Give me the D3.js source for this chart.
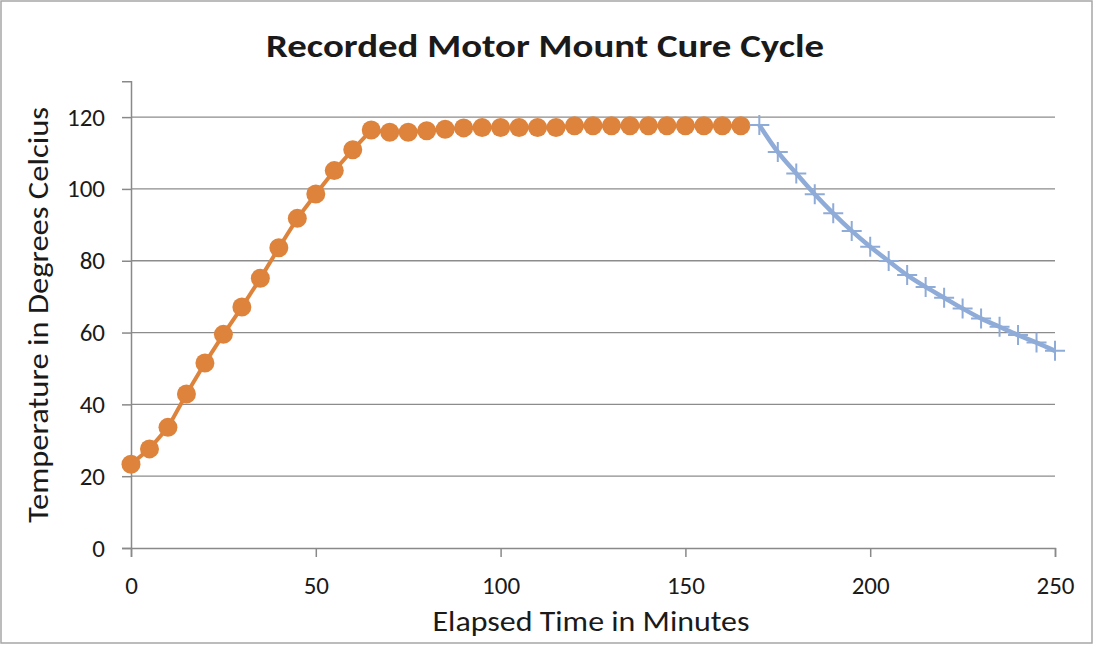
<!DOCTYPE html>
<html>
<head>
<meta charset="utf-8">
<script src="https://cdn.jsdelivr.net/npm/d3@7"></script>
<style>
  body { margin: 0; background: #fff; }
  svg text { font-family: Carlito, Calibri, Lato, "Open Sans", sans-serif; fill: #1a1a1a; }
</style>
</head>
<body>
<div id="chart"></div>
<script>
'use strict';

// heating ramp + hold (recorded every 5 minutes)
var heatTimes = [0, 5, 10, 15, 20, 25, 30, 35, 40, 45, 50, 55, 60, 65, 70, 75, 80, 85,
  90, 95, 100, 105, 110, 115, 120, 125, 130, 135, 140, 145, 150, 155, 160, 165];
var heatTemps = [23.3, 27.6, 33.6, 42.9, 51.5, 59.5, 67.1, 75.1, 83.6, 91.8, 98.6, 105.1,
  110.9, 116.4, 115.8, 115.8, 116.2, 116.6, 117.0, 117.1, 117.1, 117.1, 117.1, 117.1,
  117.6, 117.6, 117.6, 117.6, 117.6, 117.6, 117.6, 117.6, 117.6, 117.6];

// cool down
var coolTimes = [170, 175, 180, 185, 190, 195, 200, 205, 210, 215, 220, 225, 230, 235, 240, 245, 250];
var coolTemps = [117.8, 110.3, 104.3, 98.5, 93.2, 88.3, 83.9, 79.9, 76.0, 72.7, 69.7, 66.7,
  63.9, 61.6, 59.3, 57.2, 54.9];

var xTicks = [0, 50, 100, 150, 200, 250];
var yTicks = [0, 20, 40, 60, 80, 100, 120];

var chartTitle = 'Recorded Motor Mount Cure Cycle';
var xTitle = 'Elapsed Time in Minutes';
var yTitle = 'Temperature in Degrees Celcius';

var W = 1094, H = 645;
var plot = {left: 131, right: 1055, top: 82, bottom: 548};

var svg = d3.select('#chart').append('svg')
  .attr('width', W)
  .attr('height', H);

svg.append('rect')
  .attr('x', 1).attr('y', 1)
  .attr('width', W - 3).attr('height', H - 3)
  .attr('fill', '#fff')
  .attr('stroke', '#a6a6a6')
  .attr('stroke-width', 1.5);

var x = d3.scaleLinear().domain([0, 250]).range([plot.left, plot.right]);
var y = d3.scaleLinear().domain([0, 130]).range([plot.bottom, plot.top - 0.8]);

// gridlines
svg.append('g')
  .selectAll('line')
  .data(yTicks.filter(function(d) { return d > 0; }))
  .enter().append('line')
  .attr('x1', plot.left).attr('x2', plot.right)
  .attr('y1', function(d) { return y(d); })
  .attr('y2', function(d) { return y(d); })
  .attr('stroke', '#8c8c8c')
  .attr('stroke-width', 1.3);

// axes
var yAxis = svg.append('g')
  .attr('transform', 'translate(' + plot.left + ',0)')
  .call(d3.axisLeft(y).tickValues(yTicks).tickSize(9).tickPadding(17));

var xAxis = svg.append('g')
  .attr('transform', 'translate(0,' + plot.bottom + ')')
  .call(d3.axisBottom(x).tickValues(xTicks).tickSize(9).tickPadding(19));

[xAxis, yAxis].forEach(function(ax) {
  ax.select('.domain').attr('stroke', '#898989').attr('stroke-width', 1.5);
  ax.selectAll('.tick line').attr('stroke', '#898989').attr('stroke-width', 1.5);
  ax.selectAll('.tick text')
    .attr('fill', '#1a1a1a')
    .style('font-size', '25px');
});

// heating series
var heat = heatTimes.map(function(t, i) { return {t: t, v: heatTemps[i]}; });
var cool = coolTimes.map(function(t, i) { return {t: t, v: coolTemps[i]}; });

var line = d3.line()
  .x(function(d) { return x(d.t); })
  .y(function(d) { return y(d.v); });

svg.append('path')
  .datum(heat)
  .attr('d', line)
  .attr('fill', 'none')
  .attr('stroke', '#de833c')
  .attr('stroke-width', 4);

svg.append('g')
  .selectAll('circle')
  .data(heat)
  .enter().append('circle')
  .attr('cx', function(d) { return x(d.t); })
  .attr('cy', function(d) { return y(d.v); })
  .attr('r', 9.5)
  .attr('fill', '#de833c');

// cooling series
svg.append('path')
  .datum(cool)
  .attr('d', line.curve(d3.curveMonotoneX))
  .attr('fill', 'none')
  .attr('stroke', '#8fabd7')
  .attr('stroke-width', 4.5);

svg.append('g')
  .selectAll('path')
  .data(cool)
  .enter().append('path')
  .attr('d', function(d) {
    var cx = x(d.t), cy = y(d.v), s = 10;
    return 'M' + (cx - s) + ',' + cy + 'H' + (cx + s) + 'M' + cx + ',' + (cy - s) + 'V' + (cy + s);
  })
  .attr('stroke', '#8fabd7')
  .attr('stroke-width', 2);

// titles
svg.append('text')
  .attr('x', 545)
  .attr('y', 57)
  .attr('text-anchor', 'middle')
  .attr('textLength', 558)
  .attr('lengthAdjust', 'spacingAndGlyphs')
  .style('font-size', '33px')
  .style('font-weight', 'bold')
  .text(chartTitle);

svg.append('text')
  .attr('x', 591)
  .attr('y', 631)
  .attr('text-anchor', 'middle')
  .attr('textLength', 317)
  .attr('lengthAdjust', 'spacingAndGlyphs')
  .style('font-size', '28px')
  .text(xTitle);

svg.append('text')
  .attr('transform', 'translate(48,315) rotate(-90)')
  .attr('text-anchor', 'middle')
  .attr('textLength', 416)
  .attr('lengthAdjust', 'spacingAndGlyphs')
  .style('font-size', '28px')
  .text(yTitle);
</script>
</body>
</html>
